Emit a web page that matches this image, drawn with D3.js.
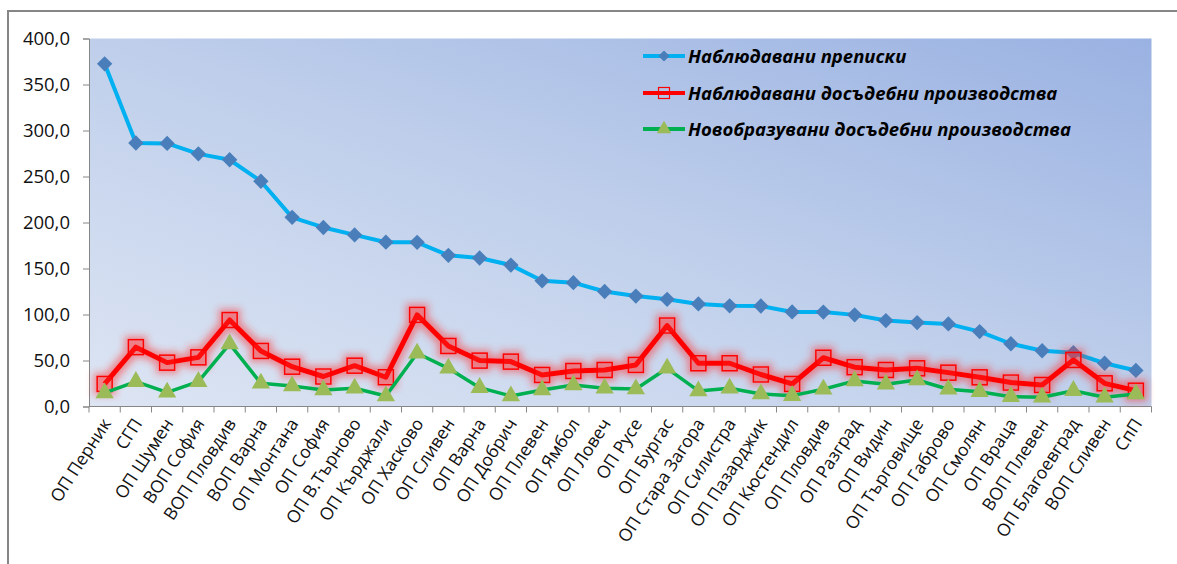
<!DOCTYPE html>
<html><head><meta charset="utf-8">
<script src="https://cdn.jsdelivr.net/npm/d3@7"></script>
<style>body{margin:0;background:#fff}svg{display:block}</style>
</head><body>
<svg id="c" width="1177" height="564"></svg>
<script>
const categories = ["ОП Перник","СГП","ОП Шумен","ВОП София","ВОП Пловдив","ВОП Варна","ОП Монтана","ОП София","ОП В.Търново","ОП Кърджали","ОП Хасково","ОП Сливен","ОП Варна","ОП Добрич","ОП Плевен","ОП Ямбол","ОП Ловеч","ОП Русе","ОП Бургас","ОП Стара Загора","ОП Силистра","ОП Пазарджик","ОП Кюстендил","ОП Пловдив","ОП Разград","ОП Видин","ОП Търговище","ОП Габрово","ОП Смолян","ОП Враца","ВОП Плевен","ОП Благоевград","ВОП Сливен","СпП"];
const observedFiles = [372.5,286.4,286.0,274.6,268.2,244.8,205.6,194.6,186.5,178.6,178.4,164.3,161.4,153.7,136.6,134.6,125.0,120.0,116.5,111.5,109.4,109.2,102.8,102.6,99.6,93.4,91.2,89.8,81.4,68.2,60.6,58.4,47.0,39.2];
const observedProceedings = [24.5,64.5,47.7,53.4,94.0,60.4,43.3,32.6,44.4,31.8,99.6,65.8,49.9,48.8,34.3,38.6,39.7,45.2,88.0,47.0,47.0,34.8,24.5,53.0,42.7,39.7,41.5,36.8,31.7,26.0,23.4,50.6,25.2,17.2];
const newProceedings = [14.7,27.0,15.4,27.0,68.0,25.2,22.3,18.0,19.8,11.4,57.9,41.5,20.5,11.4,18.0,23.4,19.8,19.0,41.5,16.9,19.8,13.6,11.8,18.7,27.8,24.1,28.8,18.7,16.1,10.7,10.0,17.2,10.0,13.6];
const yTicks = [0,50,100,150,200,250,300,350,400];
const seriesNames = ["Наблюдавани преписки","Наблюдавани досъдебни производства","Новобразувани досъдебни производства"];

const svg = d3.select("#c");
const L = 89, R = 1151.5, T = 38.5, B = 406.5;
const defs = svg.append("defs");
const grad = defs.append("linearGradient").attr("id","bg").attr("x1","0").attr("y1","1").attr("x2","1").attr("y2","0");
grad.append("stop").attr("offset","0").attr("stop-color","#dde5f3");
grad.append("stop").attr("offset","0.5").attr("stop-color","#bfcfeb");
grad.append("stop").attr("offset","1").attr("stop-color","#9ab2e2");
const glow = defs.append("filter").attr("id","glow").attr("x","-20%").attr("y","-50%").attr("width","140%").attr("height","200%");
glow.append("feMorphology").attr("in","SourceAlpha").attr("operator","dilate").attr("radius","2.5").attr("result","d");
glow.append("feGaussianBlur").attr("in","d").attr("stdDeviation","3.5").attr("result","b");
glow.append("feFlood").attr("flood-color","#ff3030").attr("flood-opacity","0.5").attr("result","f");
glow.append("feComposite").attr("in","f").attr("in2","b").attr("operator","in").attr("result","g");
const gm = glow.append("feMerge");
gm.append("feMergeNode").attr("in","g");
gm.append("feMergeNode").attr("in","SourceGraphic");

// outer border
svg.append("path").attr("d","M8,564 L8,11 L1177,11").attr("fill","none").attr("stroke","#868686").attr("stroke-width",2);

svg.append("rect").attr("x",L).attr("y",T).attr("width",R-L).attr("height",B-T).attr("fill","url(#bg)");

const x = d3.scaleBand().domain(categories).range([L,R]).padding(0);
const y = d3.scaleLinear().domain([0,400]).range([B,T]);
const cx = d => x(d) + x.bandwidth()/2;

// y axis
const ya = svg.append("g").attr("transform",`translate(${L},0)`)
  .call(d3.axisLeft(y).tickValues(yTicks).tickSize(6).tickPadding(13).tickFormat(d => d3.format(".1f")(d).replace(".",",")));
ya.select(".domain").attr("stroke","#868686");
ya.selectAll(".tick line").attr("stroke","#868686");
ya.selectAll("text").attr("font-family","Open Sans").attr("font-size","18.5px").attr("fill","#111");

// x axis
const xa = svg.append("g").attr("transform",`translate(0,${B})`);
xa.append("line").attr("x1",L).attr("x2",R).attr("stroke","#868686");
const bounds = categories.map(c => x(c)).concat([R]);
xa.selectAll("line.tk").data(bounds).join("line").attr("class","tk")
  .attr("x1",d=>d).attr("x2",d=>d).attr("y1",0).attr("y2",6).attr("stroke","#868686");
xa.selectAll("text").data(categories).join("text")
  .attr("transform",d=>`translate(${cx(d)+7},${17}) rotate(-57)`)
  .attr("text-anchor","end").attr("font-family","Open Sans").attr("font-size","17.5px").attr("fill","#111")
  .text(d=>d);

const line = d3.line().x((d,i)=>cx(categories[i])).y(d=>y(d));

// blue series
svg.append("path").datum(observedFiles).attr("d",line).attr("fill","none").attr("stroke","#00b0f0").attr("stroke-width",4).attr("stroke-linejoin","round");
svg.append("g").selectAll("path").data(observedFiles).join("path")
  .attr("d",d3.symbol(d3.symbolDiamond2,150))
  .attr("transform",(d,i)=>`translate(${cx(categories[i])},${y(d)})`)
  .attr("fill","#4a7ebb");

// red series
const rg = svg.append("g").attr("filter","url(#glow)");
rg.append("path").datum(observedProceedings).attr("d",line).attr("fill","none").attr("stroke","#ff0000").attr("stroke-width",5).attr("stroke-linejoin","round");
rg.selectAll("rect").data(observedProceedings).join("rect")
  .attr("x",(d,i)=>cx(categories[i])-7.5).attr("y",d=>y(d)-7.5).attr("width",15).attr("height",15)
  .attr("fill","rgba(255,60,60,0.15)").attr("stroke","#ff0000").attr("stroke-width",1.5);

// green series
svg.append("path").datum(newProceedings).attr("d",line).attr("fill","none").attr("stroke","#00b050").attr("stroke-width",3.5).attr("stroke-linejoin","round");
svg.append("g").selectAll("path").data(newProceedings).join("path")
  .attr("d",d3.symbol(d3.symbolTriangle,145))
  .attr("transform",(d,i)=>`translate(${cx(categories[i])},${y(d)})`)
  .attr("fill","#9bbb59");

// legend
const lg = svg.append("g");
const ly = [56,93,129];
const lx1 = 643, lx2 = 685;
lg.append("line").attr("x1",lx1).attr("x2",lx2).attr("y1",ly[0]).attr("y2",ly[0]).attr("stroke","#00b0f0").attr("stroke-width",4);
lg.append("path").attr("d",d3.symbol(d3.symbolDiamond2,80)).attr("transform",`translate(${(lx1+lx2)/2},${ly[0]})`).attr("fill","#4a7ebb");
lg.append("line").attr("x1",lx1).attr("x2",lx2).attr("y1",ly[1]).attr("y2",ly[1]).attr("stroke","#ff0000").attr("stroke-width",4);
lg.append("rect").attr("x",(lx1+lx2)/2-5.5).attr("y",ly[1]-5.5).attr("width",11).attr("height",11).attr("fill","none").attr("stroke","#ff0000").attr("stroke-width",1.2);
lg.append("line").attr("x1",lx1).attr("x2",lx2).attr("y1",ly[2]).attr("y2",ly[2]).attr("stroke","#00b050").attr("stroke-width",4);
lg.append("path").attr("d",d3.symbol(d3.symbolTriangle,90)).attr("transform",`translate(${(lx1+lx2)/2},${ly[2]})`).attr("fill","#9bbb59");
lg.selectAll("text").data(seriesNames).join("text")
  .attr("x",688).attr("y",(d,i)=>ly[i]+6.5)
  .attr("font-family","Open Sans").attr("font-size","18.5px").attr("font-weight","bold").attr("font-style","italic").attr("fill","#000")
  .text(d=>d);
</script>
</body></html>
